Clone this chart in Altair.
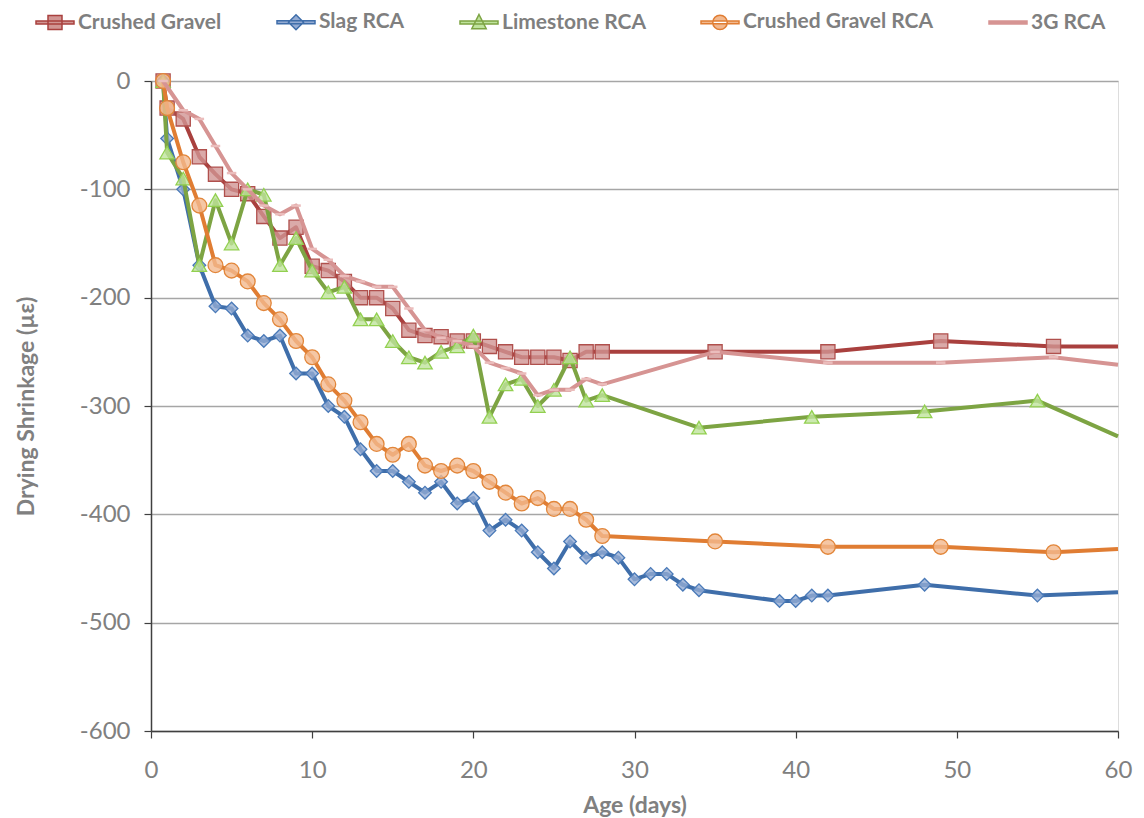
import altair as alt
import pandas as pd

series_names = ["Crushed Gravel", "Slag RCA", "Limestone RCA", "Crushed Gravel RCA", "3G RCA"]

cg_days = [0.75, 1, 2, 3, 4, 5, 6, 7, 8, 9, 10, 11, 12, 13, 14, 15, 16, 17, 18, 19, 20, 21, 22, 23, 24, 25, 26, 27, 28, 35, 42, 49, 56, 60]
cg_vals = [0, -25, -35, -70, -86, -100, -104, -125, -145, -135, -171, -175, -185, -200, -200, -210, -230, -235, -236, -240, -240, -245, -250, -255, -255, -255, -258, -250, -250, -250, -250, -240, -245, -245]

slag_days = [0.75, 1, 2, 3, 4, 5, 6, 7, 8, 9, 10, 11, 12, 13, 14, 15, 16, 17, 18, 19, 20, 21, 22, 23, 24, 25, 26, 27, 28, 29, 30, 31, 32, 33, 34, 39, 40, 41, 42, 48, 55, 60]
slag_vals = [0, -53, -100, -170, -208, -210, -235, -240, -235, -270, -270, -300, -310, -340, -360, -360, -370, -380, -370, -390, -385, -415, -405, -415, -435, -450, -425, -440, -435, -440, -460, -455, -455, -465, -470, -480, -480, -475, -475, -465, -475, -472]

lime_days = [0.75, 1, 2, 3, 4, 5, 6, 7, 8, 9, 10, 11, 12, 13, 14, 15, 16, 17, 18, 19, 20, 21, 22, 23, 24, 25, 26, 27, 28, 34, 41, 48, 55, 60]
lime_vals = [0, -66, -90, -170, -110, -150, -100, -105, -170, -145, -175, -195, -190, -220, -220, -240, -255, -260, -250, -245, -235, -310, -280, -275, -300, -285, -255, -295, -290, -320, -310, -305, -295, -328]

cgr_days = [0.75, 1, 2, 3, 4, 5, 6, 7, 8, 9, 10, 11, 12, 13, 14, 15, 16, 17, 18, 19, 20, 21, 22, 23, 24, 25, 26, 27, 28, 35, 42, 49, 56, 60]
cgr_vals = [0, -25, -75, -115, -170, -175, -185, -205, -220, -240, -255, -280, -295, -315, -335, -345, -335, -355, -360, -355, -360, -370, -380, -390, -385, -395, -395, -405, -420, -425, -430, -430, -435, -432]

g3_days = [0.75, 2, 3, 4, 5, 6, 7, 8, 9, 10, 11, 12, 13, 14, 15, 16, 17, 18, 19, 20, 21, 22, 23, 24, 25, 26, 27, 28, 35, 42, 49, 56, 60]
g3_vals = [0, -27, -35, -60, -85, -100, -115, -123, -115, -155, -165, -180, -185, -190, -190, -210, -230, -237, -240, -245, -260, -265, -270, -290, -285, -285, -275, -280, -250, -260, -260, -255, -262]

x_ticks = [0, 10, 20, 30, 40, 50, 60]
y_ticks = [-600, -500, -400, -300, -200, -100, 0]

all_days = [cg_days, slag_days, lime_days, cgr_days, g3_days]
all_vals = [cg_vals, slag_vals, lime_vals, cgr_vals, g3_vals]

line_colors = ["#A9403E", "#3F6EAA", "#7DA443", "#E07D33", "#D69493"]
marker_fills = ["#D19593", "#93ABD3", "#BFE39C", "#F2B98F", "#EBBDBC"]
marker_strokes = ["#B0504D", "#4A7AB8", "#92D050", "#E2863A", "#EBBDBC"]
marker_shapes = ["square", "diamond", "triangle-up", "circle", "M-1,0H1"]
marker_sizes = [200, 160, 210, 220, 90]

# legend glyphs: unit = 10 px (symbolSize 400), line spans 38 px
legend_paths = [
    "M-1.9,-0.14H1.9V0.14H-1.9ZM-0.7,-0.7H0.7V0.7H-0.7Z",
    "M-1.9,-0.14H1.9V0.14H-1.9ZM0,-0.75L0.75,0L0,0.75L-0.75,0Z",
    "M-1.9,-0.14H1.9V0.14H-1.9ZM0,-0.8L0.72,0.62H-0.72Z",
    "M-1.9,-0.14H1.9V0.14H-1.9ZM-0.72,0A0.72,0.72 0 1,0 0.72,0A0.72,0.72 0 1,0 -0.72,0Z",
    "M-1.9,-0.14H1.9V0.14H-1.9Z",
]
legend_fills = ["#D19593", "#93ABD3", "#BFE39C", "#F2B98F", "#D69493"]

rows = []
for name, ds, vs in zip(series_names, all_days, all_vals):
    for d, v in zip(ds, vs):
        rows.append({"series": name, "day": d, "value": v, "marker": d < 60})
df = pd.DataFrame(rows)

FONT = "Lato, 'Open Sans', sans-serif"
MINUS = "datum.value < 0 ? '-' + abs(datum.value) : '' + datum.value"

x_enc = alt.X(
    "day:Q",
    scale=alt.Scale(domain=[0, 60], nice=False, zero=False),
    axis=alt.Axis(
        values=x_ticks, grid=False, title="Age (days)", labelFlush=False, labelOverlap=False,
        domainColor="#404040", domainWidth=1.5, tickColor="#404040", tickWidth=1.2, tickSize=7,
        labelFontSize=24, labelColor="#808080", labelPadding=20, labelFont=FONT,
        titleFontSize=23, titleFontWeight="bold", titleColor="#808080", titleFont=FONT, titlePadding=12,
    ),
)
y_enc = alt.Y(
    "value:Q",
    scale=alt.Scale(domain=[-600, 0], nice=False, zero=False),
    axis=alt.Axis(
        values=y_ticks, grid=True, gridColor="#A6A6A6", gridWidth=1.5, title="Drying Shrinkage (µε)",
        domainColor="#404040", domainWidth=1.5, tickColor="#404040", tickWidth=1.2, tickSize=7,
        labelFontSize=24, labelColor="#808080", labelPadding=14, labelFont=FONT, labelExpr=MINUS,
        titleFontSize=23, titleFontWeight="bold", titleColor="#808080", titleFont=FONT, titlePadding=41,
    ),
)

base = alt.Chart(df)
layers = []
for i, name in enumerate(series_names):
    sub = base.transform_filter(alt.datum.series == name)
    layers.append(
        sub.mark_line(color=line_colors[i], strokeWidth=4, strokeJoin="round").encode(
            x=x_enc, y=y_enc, order="day:Q"
        )
    )
    if i < 4:
        pm = sub.transform_filter(alt.datum.marker == True).mark_point(
            shape=marker_shapes[i], filled=True, fill=marker_fills[i], fillOpacity=0.8,
            stroke=marker_strokes[i], strokeWidth=1.3, size=marker_sizes[i], opacity=1,
        )
    else:
        pm = sub.transform_filter(alt.datum.marker == True).mark_point(
            shape=marker_shapes[i], filled=False, stroke=marker_strokes[i],
            strokeWidth=2.5, size=marker_sizes[i], opacity=1,
        )
    layers.append(pm.encode(x=x_enc, y=y_enc))

leg = alt.Legend(
    title=None, orient="none", direction="horizontal", legendX=-107, legendY=-70,
    labelFont=FONT, labelFontSize=21, labelFontWeight="bold", labelColor="#7F7F7F", labelLimit=0,
    symbolSize=400, symbolStrokeWidth=1.5, labelOffset=12, columnPadding=52,
)
legend_layer = base.transform_filter("false").mark_point(filled=True, opacity=1, strokeWidth=1.5).encode(
    x=x_enc, y=y_enc,
    fill=alt.Fill("series:N", scale=alt.Scale(domain=series_names, range=legend_fills), legend=leg),
    stroke=alt.Stroke("series:N", scale=alt.Scale(domain=series_names, range=line_colors), legend=leg),
    shape=alt.Shape("series:N", scale=alt.Scale(domain=series_names, range=legend_paths), legend=leg),
)
layers.append(legend_layer)

chart = alt.layer(*layers).properties(
    width=967, height=650,
    padding={"left": 143, "top": 73, "right": 18, "bottom": 86},
    autosize=alt.AutoSizeParams(type="none"),
).configure_view(stroke="#404040", strokeWidth=1.5).configure(background="white")

chart.save("out.html", embed_options={"renderer": "svg", "actions": False})
